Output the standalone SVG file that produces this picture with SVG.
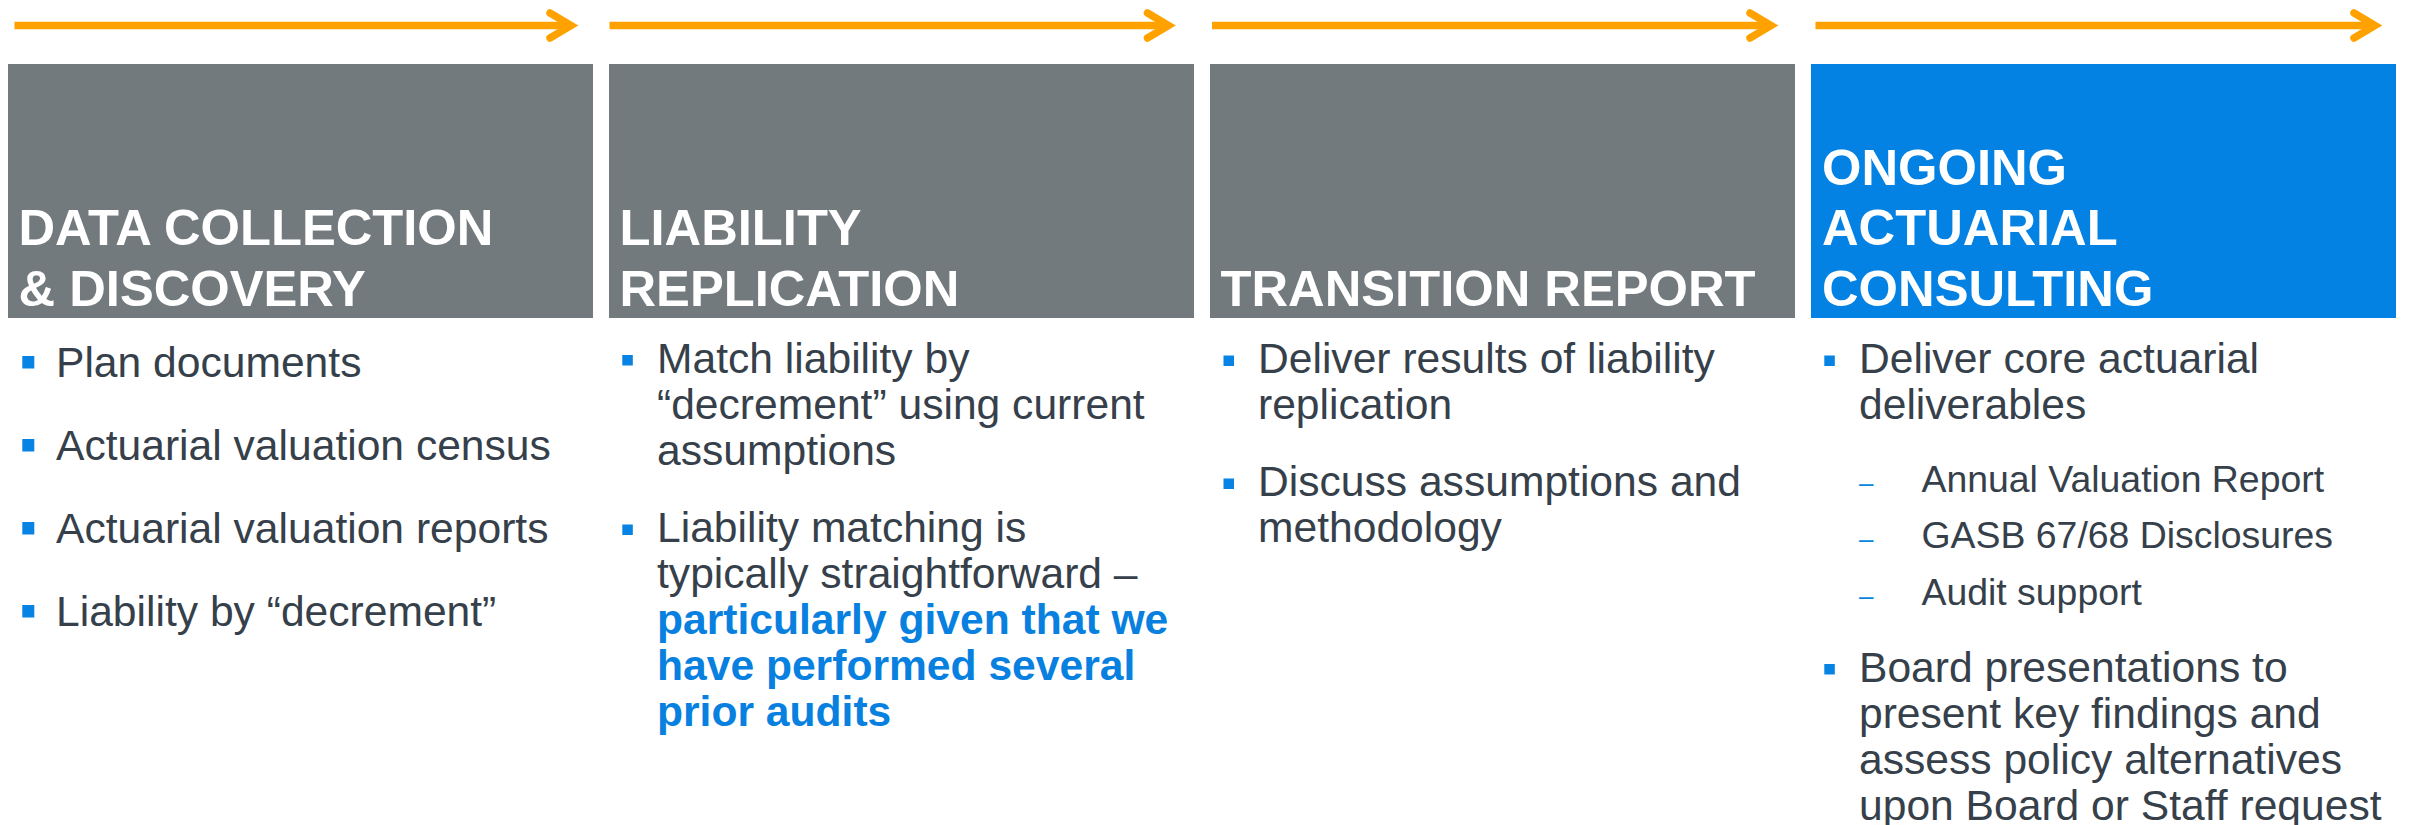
<svg xmlns="http://www.w3.org/2000/svg" width="2410" height="825" viewBox="0 0 2410 825">
<style>
.hdr-gray{fill:#737A7D}
.hdr-blue{fill:#0382E3}
.title{font-family:"Liberation Sans",Arial,sans-serif;font-weight:bold;font-size:50.7px;fill:#FFFFFF}
.body{font-family:"Liberation Sans",Arial,sans-serif;font-size:42.6px;fill:#36404A}
.sub{font-family:"Liberation Sans",Arial,sans-serif;font-size:37.4px;fill:#36404A}
.hl{font-weight:bold;fill:#0780E0}
.dash{font-family:"Liberation Sans",Arial,sans-serif;font-size:26px;fill:#0683E3}
.bul{fill:#0683E3}
.arrow{stroke:#FFA200;stroke-width:7.5;fill:none;marker-end:url(#ah)}
</style>
<defs>
<marker id="ah" markerUnits="userSpaceOnUse" viewBox="-30 -20 40 40" markerWidth="40" markerHeight="40" refX="0" refY="0" orient="auto" overflow="visible">
<path d="M-21,-12.5 L0,0 L-21,12.5" fill="none" stroke="#FFA200" stroke-width="7.5" stroke-linecap="round" stroke-linejoin="miter"/>
</marker>
</defs>
<rect width="2410" height="825" fill="#FFFFFF"/>
<g id="connectors">
<line class="arrow" x1="14.5" y1="25.5" x2="571" y2="25.5"/>
<line class="arrow" x1="609.5" y1="25.5" x2="1168.5" y2="25.5"/>
<line class="arrow" x1="1212" y1="25.5" x2="1771" y2="25.5"/>
<line class="arrow" x1="1815.5" y1="25.5" x2="2375" y2="25.5"/>
</g>
<g id="data-collection">
<rect class="hdr-gray" x="8" y="64" width="585" height="254"/>
<text class="title" x="18.5" y="245">DATA COLLECTION</text>
<text class="title" x="18.5" y="305.5">&amp; DISCOVERY</text>
<rect class="bul" x="22.3" y="356" width="12" height="12.5"/>
<text class="body" x="56" y="377">Plan documents</text>
<rect class="bul" x="22.3" y="439" width="12" height="12.5"/>
<text class="body" x="56" y="460">Actuarial valuation census</text>
<rect class="bul" x="22.3" y="522" width="12" height="12.5"/>
<text class="body" x="56" y="543">Actuarial valuation reports</text>
<rect class="bul" x="22.3" y="605" width="12" height="12.5"/>
<text class="body" x="56" y="626">Liability by “decrement”</text>
</g>
<g id="liability-replication">
<rect class="hdr-gray" x="609" y="64" width="585" height="254"/>
<text class="title" x="619.5" y="245">LIABILITY</text>
<text class="title" x="619.5" y="305.5">REPLICATION</text>
<rect class="bul" x="622.3" y="355" width="10.5" height="10.5"/>
<text class="body" x="657" y="372.5">Match liability by</text>
<text class="body" x="657" y="418.5">“decrement” using current</text>
<text class="body" x="657" y="464.5">assumptions</text>
<rect class="bul" x="622.3" y="524.5" width="10.5" height="10.5"/>
<text class="body" x="657" y="541.5">Liability matching is</text>
<text class="body" x="657" y="587.5">typically straightforward –</text>
<text class="body hl" x="657" y="633.5">particularly given that we</text>
<text class="body hl" x="657" y="679.5">have performed several</text>
<text class="body hl" x="657" y="725.5">prior audits</text>
</g>
<g id="transition-report">
<rect class="hdr-gray" x="1210" y="64" width="585" height="254"/>
<text class="title" x="1220.5" y="305.5">TRANSITION REPORT</text>
<rect class="bul" x="1223.5" y="355.5" width="10.5" height="10.5"/>
<text class="body" x="1258" y="372.5">Deliver results of liability</text>
<text class="body" x="1258" y="418.5">replication</text>
<rect class="bul" x="1223.5" y="478.5" width="10.5" height="10.5"/>
<text class="body" x="1258" y="495.5">Discuss assumptions and</text>
<text class="body" x="1258" y="541.5">methodology</text>
</g>
<g id="ongoing-consulting">
<rect class="hdr-blue" x="1811" y="64" width="585" height="254"/>
<text class="title" x="1822" y="184.5">ONGOING</text>
<text class="title" x="1822" y="245">ACTUARIAL</text>
<text class="title" x="1822" y="305.5">CONSULTING</text>
<rect class="bul" x="1824.3" y="355.5" width="10.5" height="10.5"/>
<text class="body" x="1859" y="372.5">Deliver core actuarial</text>
<text class="body" x="1859" y="418.5">deliverables</text>
<text class="dash" x="1859" y="491.5">–</text>
<text class="sub" x="1921.5" y="491.7">Annual Valuation Report</text>
<text class="dash" x="1859" y="548.3">–</text>
<text class="sub" x="1921.5" y="548.3">GASB 67/68 Disclosures</text>
<text class="dash" x="1859" y="605">–</text>
<text class="sub" x="1921.5" y="605">Audit support</text>
<rect class="bul" x="1824.3" y="664" width="10.5" height="10.5"/>
<text class="body" x="1859" y="681.5">Board presentations to</text>
<text class="body" x="1859" y="727.5">present key findings and</text>
<text class="body" x="1859" y="773.5">assess policy alternatives</text>
<text class="body" x="1859" y="819.5">upon Board or Staff request</text>
</g>
</svg>
